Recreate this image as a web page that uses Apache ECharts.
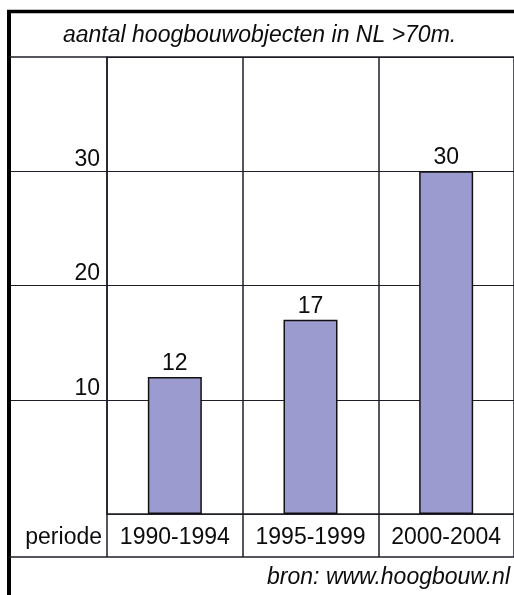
<!DOCTYPE html>
<html>
<head>
<meta charset="utf-8">
<script src="https://cdn.jsdelivr.net/npm/echarts@6/dist/echarts.min.js"></script>
<style>
  html, body { margin: 0; padding: 0; background: #fff; }
  #chart { width: 514px; height: 595px; }
</style>
</head>
<body>
<div id="chart"></div>
<script>
// Periods and number of high-rise buildings (>70 m) completed in each
const periods = ['1990-1994', '1995-1999', '2000-2004'];
const counts = [12, 17, 30];
const yMin = 0;
const yMax = 40;
const yStep = 10;

const FONT = "'Liberation Sans', Arial, sans-serif";
const FS = 23;
const INK = '#0c0c0c';
const RULE = '#1e1e2a';

const chart = echarts.init(document.getElementById('chart'), null, { renderer: 'canvas' });

chart.setOption({
  animation: false,
  backgroundColor: '#ffffff',
  textStyle: { fontFamily: FONT },
  title: [
    {
      text: 'aantal hoogbouwobjecten in NL >70m.',
      left: 63,
      top: 24,
      padding: 0,
      textStyle: { fontFamily: FONT, fontSize: FS, fontStyle: 'italic', fontWeight: 'normal', color: INK }
    },
    {
      text: 'bron: www.hoogbouw.nl',
      right: 4,
      top: 566,
      padding: 0,
      textStyle: { fontFamily: FONT, fontSize: FS, fontStyle: 'italic', fontWeight: 'normal', color: INK }
    }
  ],
  grid: { left: 107, right: -4, top: 57, bottom: 81, containLabel: false },
  xAxis: {
    type: 'category',
    data: periods,
    boundaryGap: true,
    axisLine: { show: true, lineStyle: { color: RULE, width: 1.5 } },
    axisTick: { show: true, length: 43, inside: false, lineStyle: { color: RULE, width: 1.5 } },
    splitLine: { show: true, interval: 0, lineStyle: { color: RULE, width: 1.5 } },
    axisLabel: {
      interval: 0,
      margin: 24,
      verticalAlign: 'middle',
      fontFamily: FONT,
      fontSize: FS,
      color: INK
    }
  },
  yAxis: {
    type: 'value',
    min: yMin,
    max: yMax,
    interval: yStep,
    name: 'periode',
    nameLocation: 'start',
    nameGap: 24,
    nameTextStyle: { fontFamily: FONT, fontSize: FS, color: INK, align: 'right', verticalAlign: 'middle', padding: [0, 5, 0, 0] },
    axisLine: { show: true, lineStyle: { color: RULE, width: 1.5 } },
    axisTick: { show: true, length: 97, inside: false, lineStyle: { color: RULE, width: 1.2 } },
    splitLine: { show: true, lineStyle: { color: RULE, width: 1.2 } },
    axisLabel: {
      showMinLabel: false,
      showMaxLabel: false,
      margin: 7,
      verticalAlign: 'bottom',
      padding: [0, 0, 0, 0],
      fontFamily: FONT,
      fontSize: FS,
      color: INK
    }
  },
  series: [
    {
      type: 'bar',
      data: counts,
      barWidth: 54,
      itemStyle: { color: '#9b9bd0', borderColor: '#111111', borderWidth: 1.5 },
      label: {
        show: true,
        position: 'top',
        distance: 2,
        fontFamily: FONT,
        fontSize: FS,
        color: INK
      }
    }
  ],
  graphic: [
    // table frame: thick outer edge, rule under the heading, rule above the source line
    { type: 'line', shape: { x1: 9, y1: 10, x2: 9, y2: 595 }, style: { stroke: '#000', lineWidth: 4 }, z: 10 },
    { type: 'line', shape: { x1: 7, y1: 11.5, x2: 514, y2: 11.5 }, style: { stroke: '#000', lineWidth: 3.5 }, z: 10 },
    { type: 'line', shape: { x1: 9, y1: 57, x2: 514, y2: 57 }, style: { stroke: RULE, lineWidth: 1.5 }, z: 10 },
    { type: 'line', shape: { x1: 9, y1: 557, x2: 514, y2: 557 }, style: { stroke: RULE, lineWidth: 1.5 }, z: 10 }
  ]
});
</script>
</body>
</html>
